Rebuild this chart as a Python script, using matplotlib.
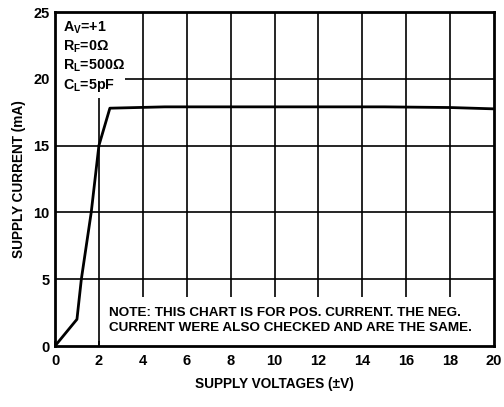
import matplotlib
matplotlib.use("Agg")
import matplotlib.pyplot as plt
from matplotlib.patches import Rectangle

plt.rcParams['font.family'] = ['Liberation Sans', 'DejaVu Sans']
plt.rcParams['font.weight'] = 'bold'
plt.rcParams['mathtext.fontset'] = 'custom'
plt.rcParams['mathtext.rm'] = 'Liberation Sans:bold'
plt.rcParams['mathtext.it'] = 'Liberation Sans:bold'
plt.rcParams['mathtext.bf'] = 'Liberation Sans:bold'

# data
voltage = [0, 1, 1.2, 1.65, 2.0, 2.5, 5, 10, 15, 18, 20]
current = [0, 2, 5, 10, 15, 17.8, 17.9, 17.9, 17.9, 17.85, 17.75]
xticks = [0, 2, 4, 6, 8, 10, 12, 14, 16, 18, 20]
yticks = [0, 5, 10, 15, 20, 25]
conditions = ["A$_{\\mathrm{V}}$=+1", "R$_{\\mathrm{F}}$=0\u03a9",
              "R$_{\\mathrm{L}}$=500\u03a9", "C$_{\\mathrm{L}}$=5pF"]
note = "NOTE: THIS CHART IS FOR POS. CURRENT. THE NEG.\nCURRENT WERE ALSO CHECKED AND ARE THE SAME."

fig = plt.figure(figsize=(5.04, 4.07), dpi=100)
ax = fig.add_axes([55/504, 61/407, 439/504, 334/407])
ax.set_xlim(0, 20)
ax.set_ylim(0, 25)

ax.vlines(xticks[1:-1], 0, 25, color='black', lw=1.2, zorder=1)
ax.hlines(yticks[1:-1], 0, 20, color='black', lw=1.2, zorder=1)

ax.add_patch(Rectangle((0, 18.6), 3.2, 6.4, facecolor='white', edgecolor='none', zorder=2))
ax.add_patch(Rectangle((2.07, 0), 17.93, 3.7, facecolor='white', edgecolor='none', zorder=2))

ax.plot(voltage, current, color='black', lw=2, zorder=4)

ax.set_xticks(xticks)
ax.set_yticks(yticks)
ax.tick_params(axis='x', direction='in', length=3.5, width=1.2, labelsize=10.5, pad=6)
ax.tick_params(axis='y', direction='in', length=0, labelsize=10.5, pad=4)
for lbl in ax.get_xticklabels() + ax.get_yticklabels():
    lbl.set_fontweight('bold')
for s in ax.spines.values():
    s.set_linewidth(2)
    s.set_zorder(5)

ax.set_xlabel("SUPPLY VOLTAGES (\u00b1V)", fontsize=9.8, fontweight='bold', labelpad=6)
ax.set_ylabel("SUPPLY CURRENT (mA)", fontsize=9.8, fontweight='bold', labelpad=5)

ys = [28, 47, 66, 85]
for t, yp in zip(conditions, ys):
    fig.text(63/504, 1 - yp/407, t, fontsize=10.3, fontweight='bold', va='center', ha='left')

ax.text(2.45, 1.9, note, fontsize=9.7, fontweight='bold', va='center', ha='left',
        linespacing=1.4, zorder=6, transform=ax.transData)

fig.savefig("out.png", dpi=100)
